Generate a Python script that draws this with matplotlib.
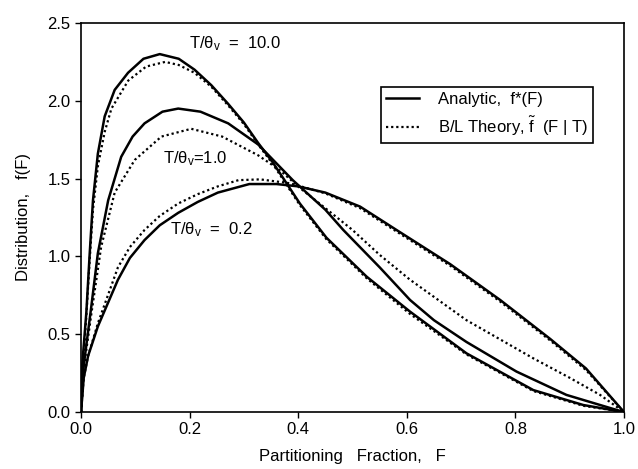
import numpy as np
import matplotlib.pyplot as plt

plt.rcParams['font.family'] = ['Liberation Sans', 'DejaVu Sans']
plt.rcParams['mathtext.fontset'] = 'custom'
plt.rcParams['mathtext.rm'] = 'Liberation Sans'
plt.rcParams['mathtext.it'] = 'Liberation Sans'

# values
# T/theta_v = 10.0
F_a10 = [0.0, 0.001, 0.0098, 0.016, 0.022, 0.031, 0.0436, 0.062, 0.0866, 0.115, 0.145, 0.18,
         0.209, 0.24, 0.271, 0.30, 0.326, 0.354, 0.403, 0.452, 0.526, 0.606, 0.71, 0.833, 0.925, 1.0]
f_a10 = [0.0, 0.25, 0.64, 1.02, 1.36, 1.66, 1.90, 2.07, 2.18, 2.27, 2.30, 2.27,
         2.20, 2.10, 1.98, 1.86, 1.73, 1.60, 1.34, 1.12, 0.87, 0.645, 0.377, 0.141, 0.045, 0.0]
F_b10 = [0.0, 0.005, 0.0098, 0.016, 0.022, 0.031, 0.0436, 0.056, 0.087, 0.12, 0.155, 0.18,
         0.209, 0.24, 0.271, 0.30, 0.326, 0.354, 0.403, 0.452, 0.526, 0.606, 0.71, 0.833, 0.925, 1.0]
f_b10 = [0.0, 0.35, 0.62, 0.98, 1.30, 1.58, 1.80, 1.95, 2.13, 2.22, 2.25, 2.23,
         2.18, 2.09, 1.97, 1.85, 1.72, 1.59, 1.33, 1.11, 0.86, 0.63, 0.37, 0.135, 0.04, 0.0]

# T/theta_v = 1.0
F_a1 = [0.0, 0.005, 0.019, 0.031, 0.05, 0.074, 0.095, 0.117, 0.15, 0.179, 0.22, 0.271,
        0.326, 0.39, 0.45, 0.483, 0.55, 0.606, 0.65, 0.71, 0.802, 0.894, 0.98, 1.0]
f_a1 = [0.0, 0.30, 0.68, 1.02, 1.36, 1.64, 1.77, 1.855, 1.93, 1.95, 1.93, 1.855,
        1.72, 1.49, 1.30, 1.17, 0.93, 0.72, 0.59, 0.45, 0.26, 0.11, 0.02, 0.0]
F_b1 = [0.0, 0.005, 0.019, 0.037, 0.062, 0.099, 0.148, 0.203, 0.26, 0.326, 0.366, 0.403,
        0.45, 0.50, 0.55, 0.606, 0.71, 0.833, 0.90, 0.956, 1.0]
f_b1 = [0.0, 0.28, 0.63, 1.06, 1.41, 1.62, 1.77, 1.82, 1.77, 1.65, 1.555, 1.44,
        1.31, 1.17, 1.01, 0.85, 0.59, 0.345, 0.22, 0.11, 0.0]

# T/theta_v = 0.2
F_a02 = [0.0, 0.005, 0.013, 0.031, 0.068, 0.09, 0.117, 0.145, 0.179, 0.215, 0.252, 0.31, 0.36,
         0.40, 0.45, 0.514, 0.581, 0.68, 0.772, 0.864, 0.93, 1.0]
f_a02 = [0.0, 0.22, 0.36, 0.55, 0.85, 0.99, 1.105, 1.20, 1.28, 1.35, 1.41, 1.465, 1.465,
         1.45, 1.41, 1.32, 1.17, 0.95, 0.72, 0.47, 0.28, 0.0]
F_b02 = [0.0, 0.005, 0.013, 0.031, 0.068, 0.09, 0.117, 0.145, 0.179, 0.215, 0.252, 0.29, 0.33,
         0.385, 0.45, 0.514, 0.581, 0.68, 0.772, 0.864, 0.93, 1.0]
f_b02 = [0.0, 0.22, 0.36, 0.57, 0.93, 1.06, 1.17, 1.26, 1.34, 1.40, 1.45, 1.49, 1.495,
         1.47, 1.405, 1.31, 1.16, 0.94, 0.71, 0.46, 0.27, 0.0]

xticks = [0.0, 0.2, 0.4, 0.6, 0.8, 1.0]
yticks = [0.0, 0.5, 1.0, 1.5, 2.0, 2.5]

fig = plt.figure(figsize=(6.38, 4.69), dpi=100)
ax = fig.add_axes([0.127, 0.1215, 0.851, 0.8295])

dots = (0, (1.0, 1.3))
ax.plot(F_a10, f_a10, 'k-', lw=1.8, label='Analytic,  f*(F)')
ax.plot(F_b10, f_b10, color='k', ls=dots, lw=1.6, label=r'B/L Theory, $\tilde{\mathrm{f}}$  (F | T)')
ax.plot(F_a1, f_a1, 'k-', lw=1.8)
ax.plot(F_b1, f_b1, color='k', ls=dots, lw=1.6)
ax.plot(F_a02, f_a02, 'k-', lw=1.8)
ax.plot(F_b02, f_b02, color='k', ls=dots, lw=1.6)

ax.text(0.284, 2.37, r'T/$\theta_\mathrm{v}$  =  10.0', ha='center', va='center', fontsize=12)
ax.text(0.21, 1.63, r'T/$\theta_\mathrm{v}$=1.0', ha='center', va='center', fontsize=12)
ax.text(0.241, 1.17, r'T/$\theta_\mathrm{v}$  =  0.2', ha='center', va='center', fontsize=12)

ax.set_xlim(0, 1)
ax.set_ylim(0, 2.5)
ax.set_xticks(xticks)
ax.set_yticks(yticks)
ax.set_xticklabels(['%.1f' % v for v in xticks])
ax.set_yticklabels(['%.1f' % v for v in yticks])
ax.tick_params(direction='out', length=4, width=1, labelsize=12, colors='k')
for s in ax.spines.values():
    s.set_linewidth(1.2)

ax.set_xlabel('Partitioning   Fraction,   F', fontsize=12, labelpad=8)
ax.set_ylabel('Distribution,   f(F)', fontsize=12, labelpad=12)

leg = ax.legend(loc='upper right', bbox_to_anchor=(0.943, 0.835), fancybox=False,
                edgecolor='k', framealpha=1, fontsize=12, handlelength=2.0,
                borderpad=0.3, labelspacing=0.45, handletextpad=1.1, borderaxespad=0)
leg.get_frame().set_linewidth(1.2)

fig.savefig('out.png', dpi=100)
